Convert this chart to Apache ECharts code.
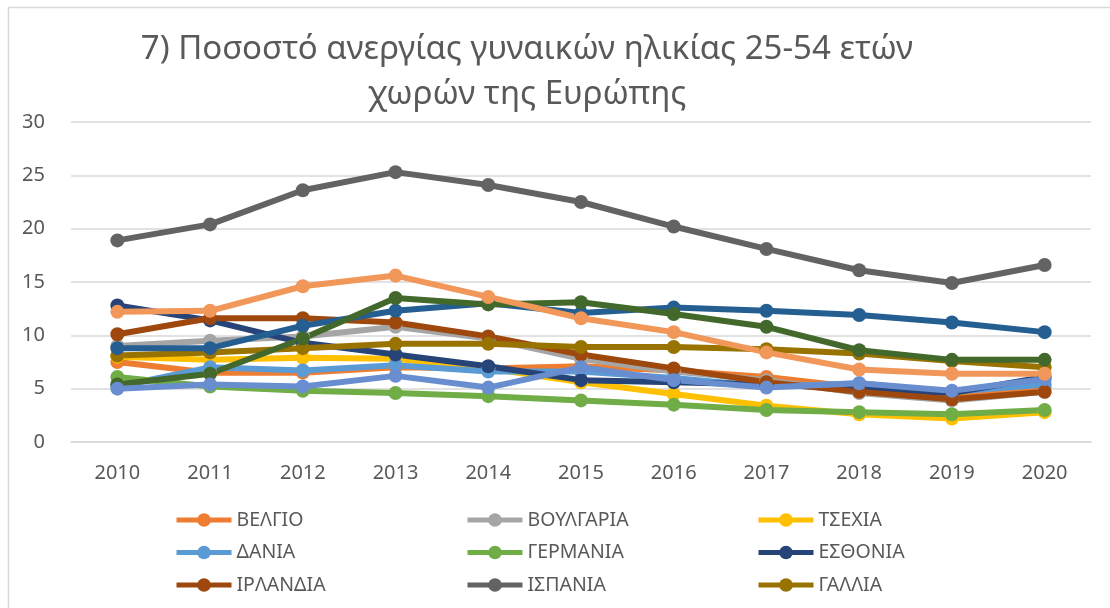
<!DOCTYPE html>
<html>
<head>
<meta charset="utf-8">
<script src="https://cdn.jsdelivr.net/npm/echarts@6/dist/echarts.min.js"></script>
<style>
  html, body { margin: 0; padding: 0; background: #fff; }
  #chart { width: 1110px; height: 608px; }
</style>
</head>
<body>
<div id="chart"></div>
<script>
// years on the x axis
const years = ["2010", "2011", "2012", "2013", "2014", "2015", "2016", "2017", "2018", "2019", "2020"];

// female unemployment 25-54 (%)
const belgio = [7.5, 6.5, 6.5, 7.0, 6.9, 7.1, 6.7, 6.1, 5.1, 4.5, 5.1];
const voulgaria = [9.0, 9.5, 9.9, 10.8, 9.7, 7.8, 6.6, 5.8, 4.6, 3.9, 4.7];
const tsexia = [8.0, 7.7, 7.9, 7.8, 6.9, 5.6, 4.5, 3.4, 2.6, 2.2, 2.8];
const dania = [5.2, 7.0, 6.7, 7.2, 6.6, 6.6, 6.0, 5.2, 5.5, 4.7, 5.4];
const germania = [6.1, 5.2, 4.8, 4.6, 4.3, 3.9, 3.5, 3.0, 2.8, 2.6, 3.0];
const esthonia = [12.8, 11.4, 9.3, 8.2, 7.1, 5.8, 5.6, 5.4, 5.0, 4.6, 6.1];
const irlandia = [10.1, 11.6, 11.6, 11.2, 9.9, 8.2, 6.9, 5.6, 4.7, 4.0, 4.7];
const ispania = [18.9, 20.4, 23.6, 25.3, 24.1, 22.5, 20.2, 18.1, 16.1, 14.9, 16.6];
const gallia = [8.1, 8.4, 8.8, 9.2, 9.2, 8.9, 8.9, 8.7, 8.3, 7.6, 7.0];
// series whose legend entries are cut off in the original
const italia = [8.8, 8.8, 10.9, 12.3, 13.0, 12.1, 12.6, 12.3, 11.9, 11.2, 10.3];
const kypros = [5.4, 6.4, 9.7, 13.5, 12.9, 13.1, 12.0, 10.8, 8.6, 7.7, 7.7];
const louxemvourgo = [5.0, 5.4, 5.2, 6.2, 5.1, 7.0, 5.8, 5.1, 5.5, 4.8, 5.9];
const portogalia = [12.2, 12.3, 14.6, 15.6, 13.6, 11.6, 10.3, 8.4, 6.8, 6.4, 6.4];

const seriesList = [
  { name: "ΒΕΛΓΙΟ", data: belgio, color: "#ED7D31" },
  { name: "ΒΟΥΛΓΑΡΙΑ", data: voulgaria, color: "#A5A5A5" },
  { name: "ΤΣΕΧΙΑ", data: tsexia, color: "#FFC000" },
  { name: "ΔΑΝΙΑ", data: dania, color: "#5B9BD5" },
  { name: "ΓΕΡΜΑΝΙΑ", data: germania, color: "#70AD47" },
  { name: "ΕΣΘΟΝΙΑ", data: esthonia, color: "#264478" },
  { name: "ΙΡΛΑΝΔΙΑ", data: irlandia, color: "#9E480E" },
  { name: "ΙΣΠΑΝΙΑ", data: ispania, color: "#636363" },
  { name: "ΓΑΛΛΙΑ", data: gallia, color: "#997300" },
  { name: "ΙΤΑΛΙΑ", data: italia, color: "#255E91" },
  { name: "ΚΥΠΡΟΣ", data: kypros, color: "#43682B" },
  { name: "ΛΟΥΞΕΜΒΟΥΡΓΟ", data: louxemvourgo, color: "#698ED0" },
  { name: "ΠΟΡΤΟΓΑΛΙΑ", data: portogalia, color: "#F1975A" },
];

// visible legend columns
const legendCols = [
  ["ΒΕΛΓΙΟ", "ΔΑΝΙΑ", "ΙΡΛΑΝΔΙΑ"],
  ["ΒΟΥΛΓΑΡΙΑ", "ΓΕΡΜΑΝΙΑ", "ΙΣΠΑΝΙΑ"],
  ["ΤΣΕΧΙΑ", "ΕΣΘΟΝΙΑ", "ΓΑΛΛΙΑ"],
];
const legendLeft = [174, 465, 756];

const font = "Noto Sans";
const textGray = "#595959";

const chart = echarts.init(document.getElementById("chart"), null, { renderer: "canvas" });

chart.setOption({
  backgroundColor: "#fff",
  animation: false,
  title: {
    text: "7) Ποσοστό ανεργίας γυναικών ηλικίας 25-54 ετών\nχωρών της Ευρώπης",
    left: 522,
    top: 22,
    textAlign: "center",
    textStyle: {
      fontFamily: font,
      fontSize: 33,
      fontWeight: "normal",
      color: textGray,
      lineHeight: 45,
    },
  },
  graphic: [
    {
      type: "rect",
      shape: { x: 8.5, y: 7.5, width: 1300, height: 800 },
      style: { fill: null, stroke: "#D9D9D9", lineWidth: 1.5 },
      silent: true,
    },
  ],
  legend: legendCols.map((names, i) => ({
    data: names,
    orient: "vertical",
    left: legendLeft[i],
    top: 510,
    padding: 0,
    itemGap: 12.5,
    itemWidth: 55,
    itemHeight: 17,
    selectedMode: false,
    lineStyle: { width: 5 },
    textStyle: { fontFamily: font, fontSize: 19.5, color: textGray, padding: [0, 0, 0, 0] },
  })),
  grid: {
    left: 71,
    right: 19,
    top: 122,
    bottom: 166,
  },
  xAxis: {
    type: "category",
    data: years,
    boundaryGap: true,
    axisLine: { lineStyle: { color: "#D9D9D9", width: 1.5 } },
    axisTick: { show: false },
    axisLabel: {
      fontFamily: font,
      fontSize: 20,
      color: textGray,
      margin: 21,
    },
  },
  yAxis: {
    type: "value",
    min: 0,
    max: 30,
    interval: 5,
    axisLine: { show: false },
    axisTick: { show: false },
    axisLabel: {
      fontFamily: font,
      fontSize: 20,
      color: textGray,
      margin: 26,
    },
    splitLine: { lineStyle: { color: "#D9D9D9", width: 1.5 } },
  },
  series: seriesList.map((s) => ({
    name: s.name,
    type: "line",
    data: s.data,
    symbol: "circle",
    symbolSize: 14,
    color: s.color,
    lineStyle: { width: 6, color: s.color },
    itemStyle: { color: s.color },
  })),
});
</script>
</body>
</html>
